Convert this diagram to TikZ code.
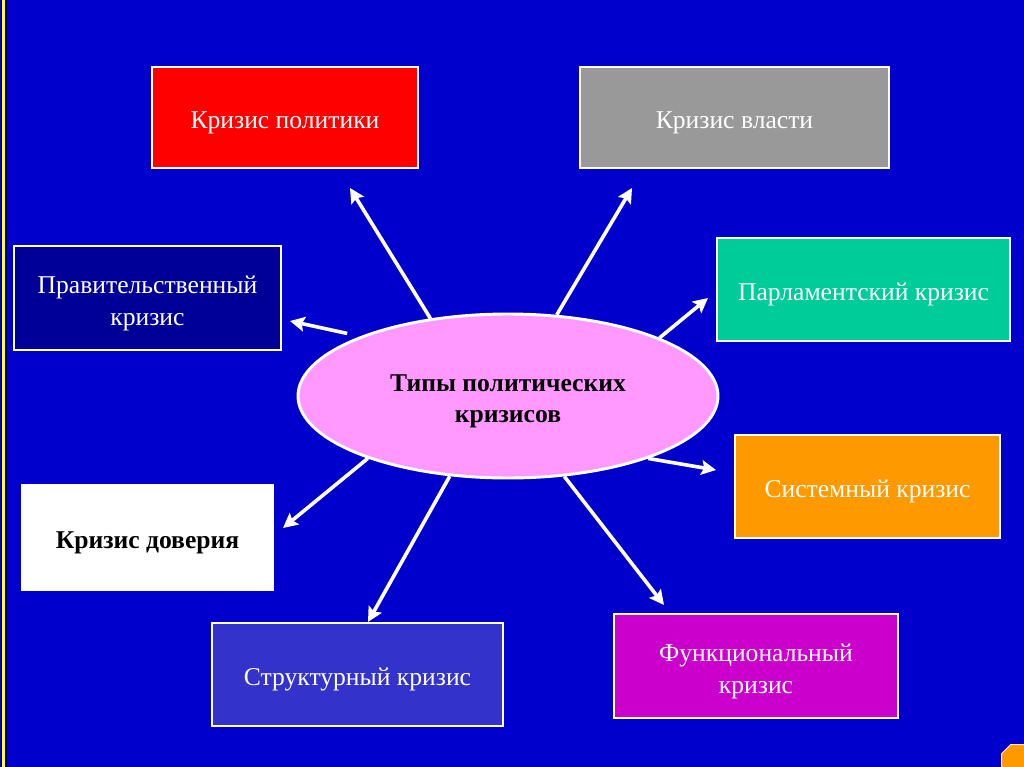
\documentclass[tikz,border=0pt]{standalone}
\usepackage{fontspec}
\setmainfont{Liberation Serif}
\usetikzlibrary{shapes.geometric,arrows.meta}
\definecolor{bg}{HTML}{0000CC}
\definecolor{cred}{HTML}{FF0000}
\definecolor{cgray}{HTML}{999999}
\definecolor{cnavy}{HTML}{000099}
\definecolor{cteal}{HTML}{00CC99}
\definecolor{corange}{HTML}{FF9900}
\definecolor{cstruct}{HTML}{3333CC}
\definecolor{cfunc}{HTML}{CC00CC}
\definecolor{cpink}{HTML}{FF99FF}
\definecolor{cyel}{HTML}{FFFF33}
\tikzset{
  box/.style={draw=white, line width=2.2pt, rectangle, inner sep=0pt},
  txt/.style={align=center, text=white, yshift=-4pt, font=\fontsize{19.2}{24}\selectfont},
  btxt/.style={align=center, text=black, yshift=-4pt, font=\bfseries\fontsize{19.2}{23}\selectfont},
  arr/.style={draw=white, line width=2.7pt, -{Stealth[length=11pt,width=11pt,inset=2pt]}}
}
\begin{document}
\begin{tikzpicture}[x=0.75pt,y=-0.75pt]
\useasboundingbox (0,0) rectangle (1024,767);
\fill[bg] (0,0) rectangle (1024,767);
\draw[line width=4.2pt, black!60!blue] (3.8,0) -- (3.8,767);
\draw[line width=2.2pt, cyel] (3.8,0) -- (3.8,767);
\node[regular polygon, regular polygon sides=8, fill=corange, draw=white!80!orange, line width=0.6pt, minimum size=25pt, inner sep=0pt] (oct) at (1017,760) {};

\node[box, fill=cred, minimum width=199.5pt, minimum height=75.75pt, label={[txt]center:Кризис политики}] (pol) at (285,117.5) {};
\node[box, fill=cgray, minimum width=231.75pt, minimum height=75.75pt, label={[txt]center:Кризис власти}] (vla) at (734.5,117.5) {};
\node[box, fill=cnavy, minimum width=200.25pt, minimum height=78pt, label={[txt]center:Правительственный\\кризис}] (pra) at (147.5,298) {};
\node[box, fill=cteal, minimum width=219.75pt, minimum height=77.25pt, label={[txt]center:Парламентский кризис}] (par) at (863.5,289.5) {};
\node[box, fill=corange, minimum width=198.75pt, minimum height=77.25pt, label={[txt]center:Системный кризис}] (sys) at (867.5,486.5) {};
\node[box, fill=white, minimum width=188.25pt, minimum height=78.75pt, label={[btxt]center:Кризис доверия}] (dov) at (147.5,537.5) {};
\node[box, fill=cstruct, minimum width=218.25pt, minimum height=77.25pt, label={[txt]center:Структурный кризис}] (str) at (357.5,674.5) {};
\node[box, fill=cfunc, minimum width=213pt, minimum height=78pt, label={[txt]center:Функциональный\\кризис}] (fun) at (756,666) {};

\node[ellipse, draw=white, line width=2.2pt, fill=cpink, minimum width=315pt, minimum height=123pt, inner sep=0pt, label={[btxt]center:Типы политических\\кризисов}] (ell) at (508,396) {};

\coordinate (hpol) at (350,188);
\coordinate (hvla) at (632,188);
\coordinate (hpra) at (290,321);
\coordinate (hpar) at (708,298);
\coordinate (hsys) at (716,470);
\coordinate (hdov) at (283,528);
\coordinate (hstr) at (368,622);
\coordinate (hfun) at (664,605);

\draw[arr] (ell.135) -- (hpol);
\draw[arr] (ell.59) -- (hvla);
\draw[arr, shorten <=10pt] (ell.158) -- (hpra);
\draw[arr] (ell.21.5) -- (hpar);
\draw[arr] (ell.-24.3) -- (hsys);
\draw[arr] (ell.204.3) -- (hdov);
\draw[arr] (ell.234.5) -- (hstr);
\draw[arr] (ell.305.3) -- (hfun);
\end{tikzpicture}
\end{document}
